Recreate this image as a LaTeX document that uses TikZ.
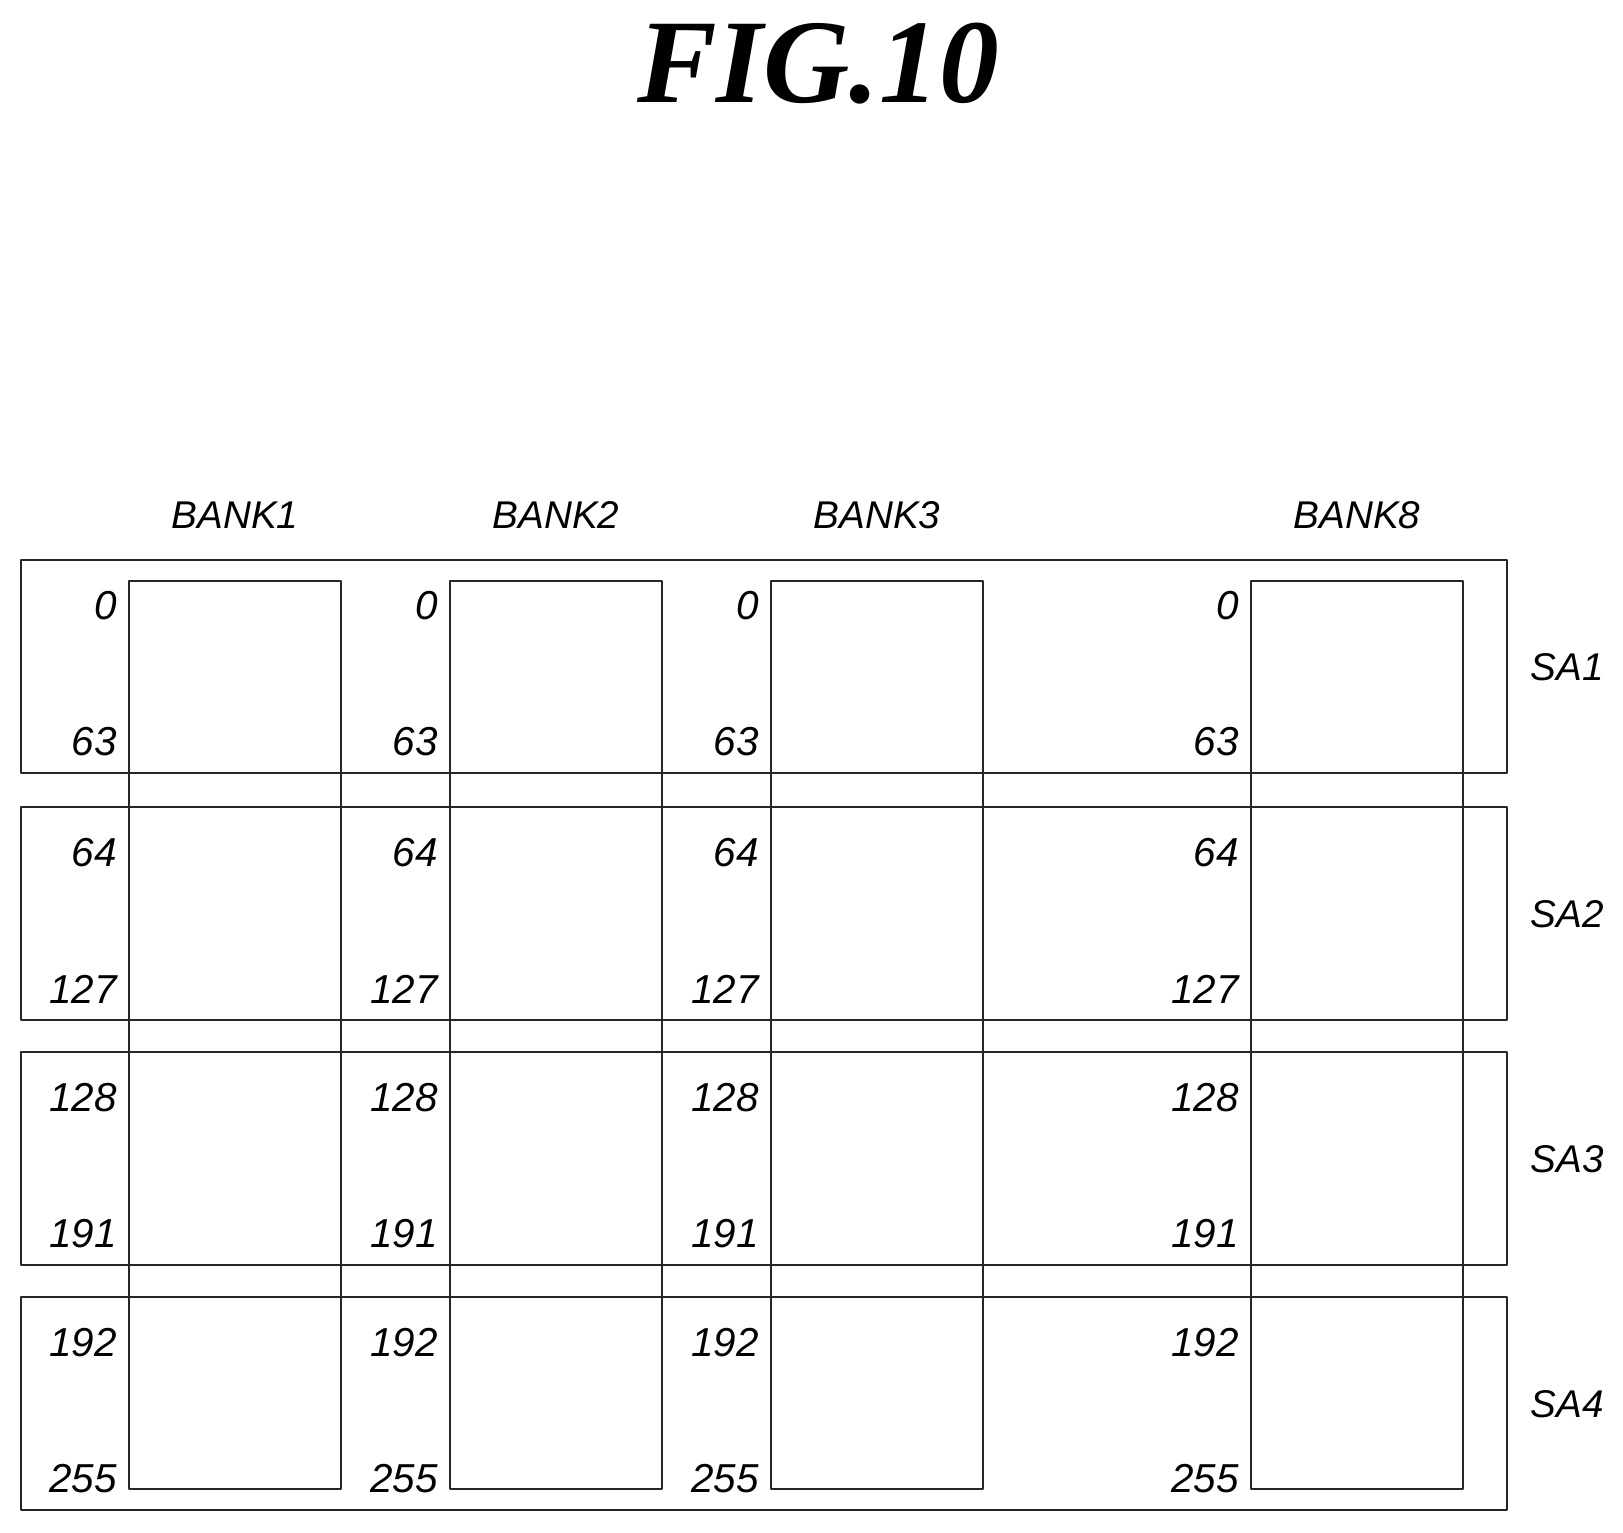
\documentclass[tikz,border=0pt]{standalone}
\usepackage{fontspec}
\setmainfont{Liberation Serif}
\setsansfont{Liberation Sans}
\tikzset{>=latex}
\tikzset{
  rowbox/.style={draw=black!85,line width=1.3pt},
  bankbox/.style={draw=black!85,line width=1.1pt},
  addr/.style={font=\sffamily\itshape\fontsize{23}{23}\selectfont,anchor=east,inner sep=0pt},
  lbl/.style={font=\sffamily\itshape\fontsize{22}{22}\selectfont,inner sep=0pt}
}
\begin{document}
\begin{tikzpicture}[x=0.02cm,y=-0.02cm,line join = round]
    \useasboundingbox (0,0) rectangle (1623,1532);
    \node[font=\bfseries\itshape\fontsize{68}{68}\selectfont] (title) at (818,64) {FIG.10};
    % row boxes
    \foreach \r/\y in {1/560,2/807,3/1052,4/1297}{
        \draw[rowbox] (21,\y) rectangle (1507,\y+213);
        \node[lbl] (sa\r) at (1567,\y+107) {SA\r};
    }
    % bank columns
    \foreach \b/\x in {1/129,2/450,3/771,8/1251}{
        \node[lbl] (bank\b) at (\x+106,515) {BANK\b};
        \draw[bankbox] (\x,581) rectangle (\x+212,1489);
        \foreach \y/\lo/\hi in {560/0/63,807/64/127,1052/128/191,1297/192/255}{
            \node[addr] at (\x-12,\y+46) {\lo};
            \node[addr] at (\x-12,\y+182) {\hi};
        }
    }
\end{tikzpicture}
\end{document}
